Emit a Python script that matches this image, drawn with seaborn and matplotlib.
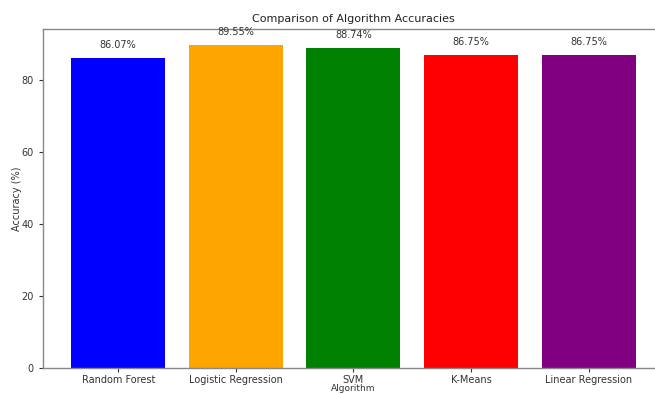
import matplotlib
matplotlib.use("Agg")
import matplotlib.pyplot as plt
import seaborn as sns
import pandas as pd

algorithms = ["Random Forest", "Logistic Regression", "SVM", "K-Means", "Linear Regression"]
accuracies = [86.07, 89.55, 88.74, 86.75, 86.75]
bar_colors = ["blue", "orange", "green", "red", "purple"]

sns.set_style("white")
plt.rcParams["font.family"] = ["DejaVu Sans"]

df = pd.DataFrame({"Algorithm": algorithms, "Accuracy": accuracies})

fig = plt.figure(figsize=(6.55, 3.94), dpi=100)
ax = fig.add_axes([0.0656, 0.066, 0.948, 0.86])

sns.barplot(data=df, x="Algorithm", y="Accuracy", hue="Algorithm",
            palette=bar_colors, width=0.8, saturation=1, legend=False,
            linewidth=0, ax=ax)

ax.set_xlim(-0.64, 4.64)
ax.set_ylim(0, max(accuracies) * 1.05)
ax.set_yticks([0, 20, 40, 60, 80])

for i, v in enumerate(accuracies):
    ax.text(i, v + 2.2, f"{v:.2f}%", ha="center", va="bottom", fontsize=7, color="#333333")

ax.set_title("Comparison of Algorithm Accuracies", fontsize=8, color="#222222", pad=5)
ax.set_xlabel("Algorithm", fontsize=6.5, color="#333333", labelpad=-0.5)
ax.set_ylabel("Accuracy (%)", fontsize=7, color="#333333", labelpad=0)
ax.tick_params(axis="both", labelsize=7, colors="#333333", length=3, width=0.8,
               left=True, bottom=True)
ax.tick_params(axis="x", pad=1.8)
for s in ax.spines.values():
    s.set_color("#888888")
    s.set_linewidth(1.0)

fig.savefig("out.png", dpi=100)
